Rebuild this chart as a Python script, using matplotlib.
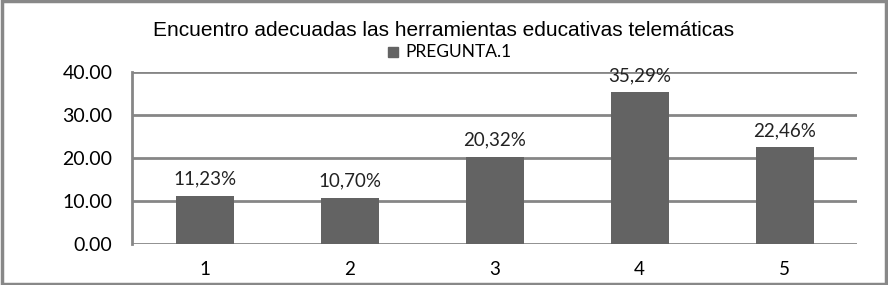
import matplotlib.pyplot as plt
from matplotlib.patches import Rectangle

categories = ["1", "2", "3", "4", "5"]
values = [11.23, 10.70, 20.32, 35.29, 22.46]
value_labels = ["11,23%", "10,70%", "20,32%", "35,29%", "22,46%"]
yticks = [0, 10, 20, 30, 40]

bar_color = "#636363"
grid_color = "#868686"
label_font = ["Lato", "DejaVu Sans"]

fig = plt.figure(figsize=(8.88, 2.85), dpi=100)
ax = fig.add_axes([132 / 888, 1 - 244 / 285, (857 - 132) / 888, (244 - 72) / 285])

x = range(len(categories))
bars = ax.bar(x, values, width=0.4, color=bar_color, zorder=3, label="PREGUNTA.1")
for b, lab in zip(bars, value_labels):
    ax.annotate(lab, (b.get_x() + b.get_width() / 2, b.get_height()),
                xytext=(0, 6), textcoords="offset points", ha="center", va="bottom",
                fontsize=13.5, family=label_font, color="#222222")

ax.set_xlim(-0.5, len(categories) - 0.5)
ax.set_ylim(0, 40)
ax.set_yticks(yticks)
ax.set_yticklabels([f"{v:.2f}" for v in yticks], family=label_font, fontsize=14)
ax.set_xticks(list(x))
ax.set_xticklabels(categories, family=label_font, fontsize=13.5)
ax.tick_params(axis="y", length=0, pad=14)
ax.tick_params(axis="x", length=0, pad=12)
ax.yaxis.grid(True, color=grid_color, linewidth=2, zorder=0)
for s in ["top", "right", "bottom"]:
    ax.spines[s].set_visible(False)
ax.spines["left"].set_color(grid_color)
ax.spines["left"].set_linewidth(2)

fig.text(0.5, 1 - 31 / 285, "Encuentro adecuadas las herramientas educativas telemáticas",
         ha="center", va="center", fontsize=15, family="Liberation Sans", color="black")

# legend
fig.patches.append(Rectangle((388 / 888, 1 - 57 / 285), 10 / 888, 10 / 285,
                             transform=fig.transFigure, color=bar_color))
fig.text(405 / 888, 1 - 52 / 285, "PREGUNTA.1", ha="left", va="center",
         fontsize=12.5, family=label_font, color="black")

fig.patches.append(Rectangle((0.002, 0.004), 0.996, 0.992, transform=fig.transFigure,
                             fill=False, edgecolor="#888888", linewidth=2.5))

fig.savefig("out.png", dpi=100)
plt.close(fig)
